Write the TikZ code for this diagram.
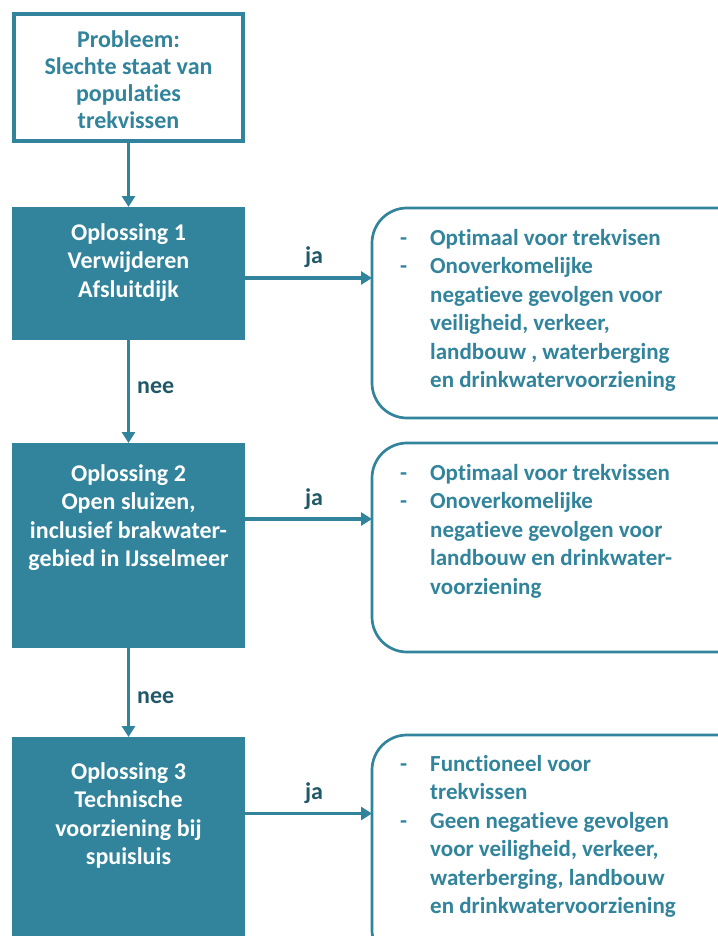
\documentclass[tikz,border=0pt]{standalone}
\usepackage{fontspec}
\setmainfont[Ligatures=NoCommon]{Carlito}
\usetikzlibrary{arrows.meta,calc}
\definecolor{tealA}{HTML}{31849B}
\definecolor{tealD}{HTML}{215868}
\begin{document}
\begin{tikzpicture}[x=1pt,y=-1pt,
  boxfont/.style={font=\fontsize{24}{28.5}\selectfont\bfseries},
  probbox/.style={draw=tealA,line width=4pt,fill=white,outer sep=0pt,inner sep=0pt,anchor=north west},
  solbox/.style={fill=tealA,outer sep=0pt,inner sep=0pt,anchor=north west},
  resbox/.style={draw=tealA,line width=2.7pt,rounded corners=35pt,fill=white,outer sep=0pt,inner sep=0pt,anchor=north west},
  soltext/.style={boxfont,text=white,align=center,inner sep=0pt,anchor=base},
  restext/.style={font=\fontsize{23}{28.5}\selectfont\bfseries,text=tealA,align=left,inner sep=0pt,anchor=base west},
  lbl/.style={font=\fontsize{24}{28}\selectfont\bfseries,text=tealD,inner sep=0pt},
  arr/.style={draw=tealA,line width=3.5pt,-{Triangle[length=11pt,width=13pt]}}]
\useasboundingbox (0,0) rectangle (717,936);
\newcommand{\dsh}{\makebox[30pt][l]{-}}
\newcommand{\ind}{\hspace*{30pt}}
% left column
\node[probbox,minimum width=229pt,minimum height=127pt] (prob) at (14,14) {};
\node[font=\fontsize{24}{27.3}\selectfont\bfseries,text=tealA,align=center,inner sep=0pt,anchor=base] (probt) at (128.5,129) {Probleem:\\Slechte staat van\\populaties\\trekvissen};
\node[solbox,minimum width=233pt,minimum height=133pt] (opl1) at (12,207) {};
\node[soltext] (t1) at (128.5,297) {Oplossing 1\\Verwijderen\\Afsluitdijk};
\node[solbox,minimum width=233pt,minimum height=205pt] (opl2) at (12,443) {};
\node[soltext] (t2) at (128.5,566.5) {Oplossing 2\\Open sluizen,\\inclusief brakwater-\\gebied in IJsselmeer};
\node[solbox,minimum width=233pt,minimum height=204pt] (opl3) at (12,737) {};
\node[soltext] (t3) at (128.5,864.5) {Oplossing 3\\Technische\\voorziening bij\\spuisluis};
% right column
\node[resbox,minimum width=380pt,minimum height=210pt] (res1) at (372,208) {};
\node[restext] (r1) at (400,387.5) {\dsh Optimaal voor trekvisen\\\dsh Onoverkomelijke\\\ind negatieve gevolgen voor\\\ind veiligheid, verkeer,\\\ind landbouw , waterberging\\\ind en drinkwatervoorziening};
\node[resbox,minimum width=380pt,minimum height=209pt] (res2) at (372,443) {};
\node[restext] (r2) at (400,594) {\dsh Optimaal voor trekvissen\\\dsh Onoverkomelijke\\\ind negatieve gevolgen voor\\\ind landbouw en drinkwater-\\\ind voorziening};
\node[resbox,minimum width=380pt,minimum height=230pt] (res3) at (372,735) {};
\node[restext] (r3) at (400,913.5) {\dsh Functioneel voor\\\ind trekvissen\\\dsh Geen negatieve gevolgen\\\ind voor veiligheid, verkeer,\\\ind waterberging, landbouw\\\ind en drinkwatervoorziening};
% labels
\node[lbl,anchor=base west] (n1) at (137,393) {nee};
\node[lbl,anchor=base west] (n2) at (137,703) {nee};
\node[lbl,anchor=base] (j1) at (314,263) {ja};
\node[lbl,anchor=base] (j2) at (314,505) {ja};
\node[lbl,anchor=base] (j3) at (314,799) {ja};
% connectors
\draw[arr] (prob.south) -- (opl1.north);
\draw[arr] (opl1.south) -- (opl2.north);
\draw[arr] (opl2.south) -- (opl3.north);
\coordinate (a1) at ($(opl1.north east)+(0,71)$);
\coordinate (a2) at ($(opl2.north east)+(0,76)$);
\coordinate (a3) at ($(opl3.north east)+(0,76.5)$);
\draw[arr] (a1) -- (a1 -| res1.west);
\draw[arr] (a2) -- (a2 -| res2.west);
\draw[arr] (a3) -- (a3 -| res3.west);
\end{tikzpicture}
\end{document}
